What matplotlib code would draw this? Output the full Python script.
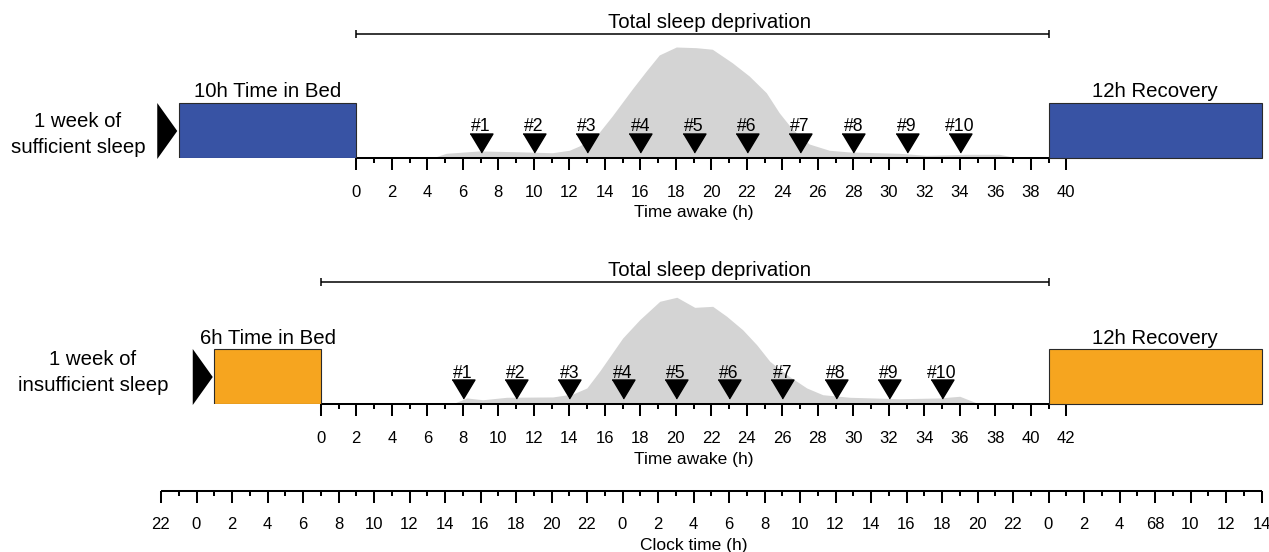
import matplotlib
matplotlib.use("Agg")
import numpy as np
import matplotlib.pyplot as plt
from matplotlib.patches import Rectangle, Polygon
from matplotlib.ticker import FixedLocator, FixedFormatter

plt.rcParams['font.family'] = ['Liberation Sans', 'DejaVu Sans']

# ---------------------------------------------------------------- data
# Two protocols: 1 week of sufficient vs. insufficient sleep, then
# total sleep deprivation, then 12 h recovery sleep.
bed_hours = [10, 6]                 # time in bed during the baseline week
wake_offset = [11, 9]               # hours from 22:00 (clock axis origin) to waking
deprivation_hours = [39, 41]        # length of total sleep deprivation
recovery_hours = [12, 12]
awake_axis_max = [40, 42]
bed_labels = ["10h Time in Bed", "6h Time in Bed"]
recovery_labels = ["12h Recovery", "12h Recovery"]
week_labels = [("1 week of", "sufficient sleep"), ("1 week of", "insufficient sleep")]
box_colors = ["#3853a4", "#f6a51f"]

test_labels = ["#1", "#2", "#3", "#4", "#5", "#6", "#7", "#8", "#9", "#10"]
test_hours = [
    [7, 10, 13, 16, 19, 22, 25, 28, 31, 34],
    [8, 11, 14, 17, 20, 23, 26, 29, 32, 35],
]

# relative level (% of maximum) against hours awake
level_hours = [
    [4.4, 4.5, 5.07, 6.93, 9.01, 11.04, 12.0, 12.56, 13.52, 14.42, 15.55, 16.34,
     17.07, 18.03, 19.15, 20.06, 21.18, 22.14, 23.1, 23.83, 24.56, 25.52, 26.65,
     27.77, 30.59, 32.11, 34.37, 36.23, 37.18, 37.3],
    [7.4, 8.23, 9.13, 10.48, 13.07, 14.2, 14.99, 15.72, 17.01, 17.97, 19.1, 20.06,
     21.07, 22.08, 22.87, 23.77, 24.56, 25.3, 26.25, 27.38, 28.28, 29.8, 32.62,
     34.87, 36.0, 36.96, 37.1],
]
level_values = [
    [0.0, 1.2, 4.2, 6.3, 5.6, 4.7, 6.9, 10.7, 19.6, 37.5, 61.6, 77.7, 92.0, 99.1,
     98.5, 97.1, 85.1, 73.2, 58.3, 40.4, 25.9, 12.5, 6.9, 5.4, 4.2, 2.4, 3.3, 3.3,
     0.3, 0.0],
    [0.0, 5.4, 3.8, 6.0, 6.3, 8.9, 14.3, 29.5, 58.9, 75.3, 91.7, 95.3, 86.3, 87.2,
     78.3, 66.3, 52.9, 38.1, 26.2, 14.3, 8.3, 6.0, 4.7, 5.4, 6.9, 0.9, 0.0],
]

clock_labels = ["22", "0", "2", "4", "6", "8", "10", "12", "14", "16", "18", "20",
                "22", "0", "2", "4", "6", "8", "10", "12", "14", "16", "18", "20",
                "22", "0", "2", "4", "68", "10", "12", "14"]
clock_span = 62

# ---------------------------------------------------------------- layout
W, H, DPI = 1269, 552, 100
PXH = 17.75            # pixels per hour on every time axis
CLOCK_LEFT = 161       # pixel column of the clock-axis origin
LW = 1.45
GRAY = "#d4d4d4"
BIG = 14.7
TICK = 12
AXLAB = 12.5

panel_top = [0, 240]
panel_base = [158, 404]
clock_base = 490.5

fig = plt.figure(figsize=(W / DPI, H / DPI), dpi=DPI)
x_lo = -CLOCK_LEFT / PXH
x_hi = (W - CLOCK_LEFT) / PXH


def time_axes(top_px, base_px):
    ax = fig.add_axes([0, 1 - base_px / H, 1, (base_px - top_px) / H])
    ax.set_xlim(x_lo, x_hi)
    ax.set_ylim(0, base_px - top_px)
    ax.patch.set_alpha(0)
    for s in ("left", "right", "top"):
        ax.spines[s].set_visible(False)
    ax.set_yticks([])
    ax.spines["bottom"].set_linewidth(LW)
    ax.spines["bottom"].set_capstyle("butt")
    ax.tick_params(axis="x", which="major", direction="out", length=8.6,
                   width=LW, pad=10.6, labelsize=TICK)
    ax.tick_params(axis="x", which="minor", direction="out", length=3.6,
                   width=LW)
    return ax


def set_hour_ticks(ax, origin, span, labels):
    major = [origin + k for k in range(0, span + 1, 2)]
    minor = [origin + k for k in range(1, span, 2)]
    ax.spines["bottom"].set_bounds(origin, origin + span)
    ax.xaxis.set_major_locator(FixedLocator(major))
    ax.xaxis.set_major_formatter(FixedFormatter(labels))
    ax.xaxis.set_minor_locator(FixedLocator(minor))


AXIS_LABEL_X = 30.0
DEPRIV_LABEL_X = 30.9
LABEL_DROP = -59.5
week_x_px = [78, 93]
week_y = [(31, 5), (39, 13)]
bracket_y = [124, 122]

for i in range(2):
    ax = time_axes(panel_top[i], panel_base[i])
    off = wake_offset[i]
    set_hour_ticks(ax, off, awake_axis_max[i],
                   [str(k) for k in range(0, awake_axis_max[i] + 1, 2)])

    # sleepiness profile
    hx = off + np.array(level_hours[i])
    hy = np.array(level_values[i]) * 112 / 100
    ax.fill_between(hx, hy, 0, color=GRAY, lw=0, zorder=1)

    # sleep boxes
    box_h = 55
    bed_start = off - bed_hours[i]
    ax.add_patch(Rectangle((bed_start, 0), bed_hours[i], box_h,
                           fc=box_colors[i], ec="#2a2a2a", lw=0.8, zorder=3))
    rec_start = off + deprivation_hours[i]
    ax.add_patch(Rectangle((rec_start, 0), recovery_hours[i], box_h,
                           fc=box_colors[i], ec="#2a2a2a", lw=0.8, zorder=3,
                           clip_on=False))
    ax.text(bed_start + bed_hours[i] / 2, 60.5, bed_labels[i], ha="center",
            va="baseline", fontsize=BIG)
    ax.text(rec_start + recovery_hours[i] / 2, 60.5, recovery_labels[i],
            ha="center", va="baseline", fontsize=BIG)

    # arrow entering the baseline week
    tip = bed_start - 1.5 / PXH
    aw = 20 / PXH
    ax.add_patch(Polygon([(tip - aw, 55), (tip, 27), (tip - aw, -1)],
                         closed=True, fc="black", ec="none", zorder=3,
                         clip_on=False))
    wx = (week_x_px[i] - CLOCK_LEFT) / PXH
    ax.text(wx, week_y[i][0], week_labels[i][0], ha="center", va="baseline",
            fontsize=BIG)
    ax.text(wx, week_y[i][1], week_labels[i][1], ha="center", va="baseline",
            fontsize=BIG)

    # test sessions
    tri = [(-1, 0.83), (1, 0.83), (0, -0.83)]
    tx = off + np.array(test_hours[i])
    ax.plot(tx, np.full(len(tx), 15.0), ls="none", marker=tri, ms=16.5,
            color="black", zorder=4)
    for x, lab in zip(tx, test_labels):
        ax.text(x, 26.5, lab, ha="center", va="baseline", fontsize=12.7,
                zorder=4)

    # total sleep deprivation bracket
    by = bracket_y[i]
    ax.plot([off, off + deprivation_hours[i]], [by, by], color="black",
            lw=1.1, clip_on=False, solid_capstyle="butt")
    ax.vlines([off, off + deprivation_hours[i]], by - 4, by + 4,
              color="black", lw=1.1, clip_on=False)
    ax.text(DEPRIV_LABEL_X, by + 6.5, "Total sleep deprivation", ha="center",
            va="baseline", fontsize=BIG)

    ax.text(AXIS_LABEL_X, LABEL_DROP, "Time awake (h)", ha="center",
            va="baseline", fontsize=AXLAB)

# clock-time axis
axc = time_axes(clock_base - 10, clock_base)
set_hour_ticks(axc, 0, clock_span, clock_labels)
axc.text(AXIS_LABEL_X, LABEL_DROP, "Clock time (h)", ha="center",
         va="baseline", fontsize=AXLAB)

fig.savefig("out.png", dpi=DPI)
